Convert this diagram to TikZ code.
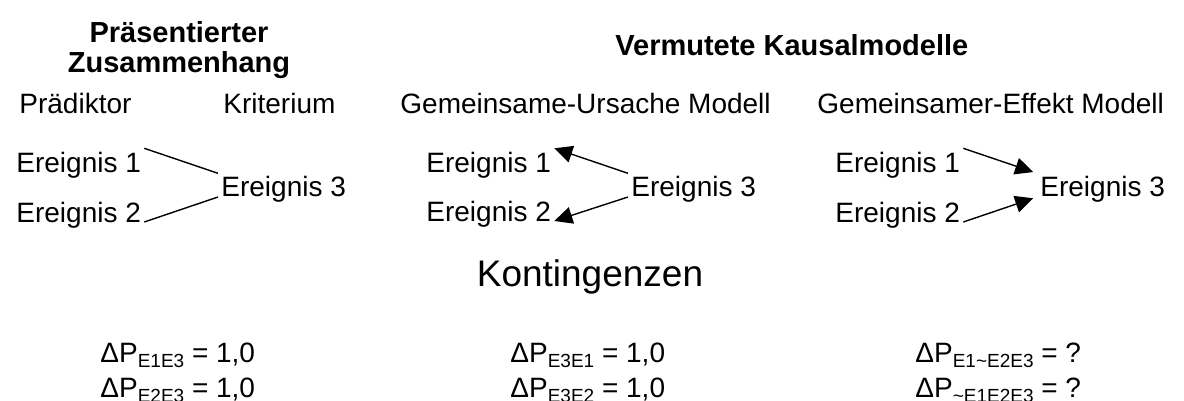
\documentclass[tikz,border=0pt]{standalone}
\usepackage{fontspec}
\setmainfont{Liberation Sans}
\usetikzlibrary{arrows.meta}

% Index fuer Kontingenzen
\newcommand{\subidx}[1]{\raisebox{-2.6pt}{\fontsize{9.5}{10}\selectfont #1}}

\tikzset{
  ereignis/.style={inner sep=1.5pt, anchor=base west},
  kopf/.style={inner sep=0pt, anchor=base west},
  linie/.style={line width=0.7pt},
  pfeil/.style={line width=0.7pt, -{Triangle[length=9pt,width=8.5pt]}},
}

\begin{document}
\begin{tikzpicture}[x=0.5pt, y=-0.5pt, font=\fontsize{14}{15}\selectfont]
  \useasboundingbox (0,0) rectangle (1184,401);
  \clip (0,0) rectangle (1184,401);

  % Ueberschriften
  \node[inner sep=0pt, align=center, font=\fontsize{14.5}{15}\selectfont\bfseries]
    (titelA) at (179,50) {Pr\"asentierter\\Zusammenhang};
  \node[kopf, font=\fontsize{14.5}{15}\selectfont\bfseries] (titelB) at (615,56) {Vermutete Kausalmodelle};

  % Praesentierter Zusammenhang
  \begin{scope}[shift={(0,0)}]
    \node[kopf] (praed) at (19,114) {Pr\"adiktor};
    \node[kopf] (krit) at (223,114) {Kriterium};
    \node[ereignis] (a1) at (13,172) {Ereignis 1};
    \node[ereignis] (a2) at (13,222) {Ereignis 2};
    \node[ereignis] (a3) at (218,197) {Ereignis 3};
    \draw[linie] (a1.north east) -- (a3.north west);
    \draw[linie] (a3.base west) -- (a2.base east);
  \end{scope}

  % Gemeinsame-Ursache Modell
  \begin{scope}[shift={(410,0)}]
    \node[kopf] (ursache) at (-10,114) {Gemeinsame-Ursache Modell};
    \node[ereignis] (b1) at (13,172) {Ereignis 1};
    \node[ereignis] (b2) at (13,221) {Ereignis 2};
    \node[ereignis] (b3) at (218,197) {Ereignis 3};
    \draw[pfeil] (b3.north west) -- (b1.north east);
    \draw[pfeil] (b3.base west) -- (b2.base east);
  \end{scope}

  % Gemeinsamer-Effekt Modell
  \begin{scope}[shift={(819,0)}]
    \node[kopf] (effekt) at (-2,114) {Gemeinsamer-Effekt Modell};
    \node[ereignis] (c1) at (13,172) {Ereignis 1};
    \node[ereignis] (c2) at (13,222) {Ereignis 2};
    \node[ereignis] (c3) at (218,197) {Ereignis 3};
    \draw[pfeil, shorten >=2pt] (c1.north east) -- (c3.north west);
    \draw[pfeil, shorten >=2pt] (c2.base east) -- (c3.base west);
  \end{scope}

  % Kontingenzen
  \node[inner sep=0pt, anchor=base, font=\fontsize{18.5}{20}\selectfont] (kont) at (590,286) {Kontingenzen};

  \node[kopf] (ka1) at (100,362) {ΔP\subidx{E1E3} = 1,0};
  \node[kopf] (ka2) at (100,397) {ΔP\subidx{E2E3} = 1,0};
  \node[kopf] (kb1) at (510,362) {ΔP\subidx{E3E1} = 1,0};
  \node[kopf] (kb2) at (510,397) {ΔP\subidx{E3E2} = 1,0};
  \node[kopf] (kc1) at (915,362) {ΔP\subidx{E1\textasciitilde E2E3} = ?};
  \node[kopf] (kc2) at (915,397) {ΔP\subidx{\textasciitilde E1E2E3} = ?};
\end{tikzpicture}
\end{document}
